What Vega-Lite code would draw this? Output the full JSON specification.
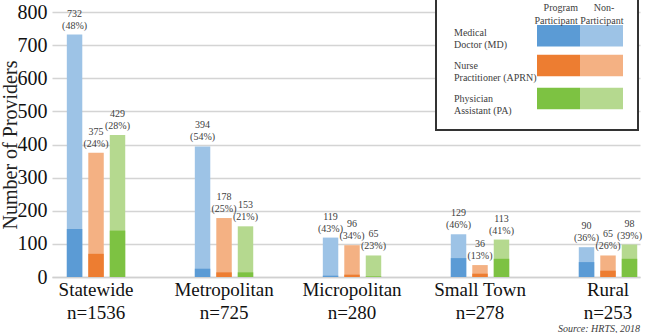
{
  "$schema": "https://vega.github.io/schema/vega-lite/v6.json",
  "autosize": {"type": "none"},
  "width": 588,
  "height": 265,
  "padding": {"left": 52, "top": 12, "right": 5, "bottom": 56},
  "background": "white",
  "config": {
    "view": {"stroke": null},
    "font": "Liberation Serif",
    "axisY": {
      "titleFont": "Liberation Serif",
      "titleFontSize": 20,
      "titleFontWeight": "normal",
      "titleColor": "#222222",
      "titlePadding": -3,
      "labelOverlap": false,
      "labelFont": "Liberation Serif",
      "labelFontSize": 20,
      "labelColor": "#111111",
      "labelPadding": 5,
      "ticks": false,
      "domain": false,
      "grid": true,
      "gridColor": "#d4d4d4",
      "gridWidth": 1.3
    }
  },
  "title": {
    "text": "Source: HRTS, 2018",
    "orient": "bottom",
    "anchor": "end",
    "frame": "group",
    "font": "Liberation Serif",
    "fontSize": 10,
    "fontStyle": "italic",
    "fontWeight": "normal",
    "color": "#404040",
    "offset": 2
  },
  "data": {
    "values": [
      {"area": "Statewide", "prof": "MD", "nkey": "MD-N", "pkey": "MD-P", "total": 732, "program": 145, "label": "732\n(48%)"},
      {"area": "Statewide", "prof": "NP", "nkey": "NP-N", "pkey": "NP-P", "total": 375, "program": 70, "label": "375\n(24%)"},
      {"area": "Statewide", "prof": "PA", "nkey": "PA-N", "pkey": "PA-P", "total": 429, "program": 140, "label": "429\n(28%)"},
      {"area": "Metropolitan", "prof": "MD", "nkey": "MD-N", "pkey": "MD-P", "total": 394, "program": 25, "label": "394\n(54%)"},
      {"area": "Metropolitan", "prof": "NP", "nkey": "NP-N", "pkey": "NP-P", "total": 178, "program": 14, "label": "178\n(25%)"},
      {"area": "Metropolitan", "prof": "PA", "nkey": "PA-N", "pkey": "PA-P", "total": 153, "program": 14, "label": "153\n(21%)"},
      {"area": "Micropolitan", "prof": "MD", "nkey": "MD-N", "pkey": "MD-P", "total": 119, "program": 4, "label": "119\n(43%)"},
      {"area": "Micropolitan", "prof": "NP", "nkey": "NP-N", "pkey": "NP-P", "total": 96, "program": 7, "label": "96\n(34%)"},
      {"area": "Micropolitan", "prof": "PA", "nkey": "PA-N", "pkey": "PA-P", "total": 65, "program": 2, "label": "65\n(23%)"},
      {"area": "Small Town", "prof": "MD", "nkey": "MD-N", "pkey": "MD-P", "total": 129, "program": 57, "label": "129\n(46%)"},
      {"area": "Small Town", "prof": "NP", "nkey": "NP-N", "pkey": "NP-P", "total": 36, "program": 10, "label": "36\n(13%)"},
      {"area": "Small Town", "prof": "PA", "nkey": "PA-N", "pkey": "PA-P", "total": 113, "program": 55, "label": "113\n(41%)"},
      {"area": "Rural", "prof": "MD", "nkey": "MD-N", "pkey": "MD-P", "total": 90, "program": 45, "label": "90\n(36%)"},
      {"area": "Rural", "prof": "NP", "nkey": "NP-N", "pkey": "NP-P", "total": 65, "program": 19, "label": "65\n(26%)"},
      {"area": "Rural", "prof": "PA", "nkey": "PA-N", "pkey": "PA-P", "total": 98, "program": 55, "label": "98\n(39%)"}
    ]
  },
  "encoding": {
    "x": {
      "field": "area",
      "type": "nominal",
      "sort": ["Statewide", "Metropolitan", "Micropolitan", "Small Town", "Rural"],
      "scale": {"paddingInner": 0.5, "paddingOuter": 0.047, "align": 1},
      "axis": {
        "title": null,
        "labelAngle": 0,
        "labelFont": "Liberation Serif",
        "labelFontSize": 19,
        "labelColor": "#111111",
        "labelPadding": 3,
        "labelLineHeight": 23,
        "labelExpr": "datum.value == 'Statewide' ? ['Statewide', 'n=1536'] : datum.value == 'Metropolitan' ? ['Metropolitan', 'n=725'] : datum.value == 'Micropolitan' ? ['Micropolitan', 'n=280'] : datum.value == 'Small Town' ? ['Small Town', 'n=278'] : ['Rural', 'n=253']",
        "ticks": false,
        "domain": true,
        "domainColor": "#d0d0d0",
        "domainWidth": 1.5,
        "grid": false
      }
    },
    "xOffset": {
      "field": "prof",
      "type": "nominal",
      "sort": ["MD", "NP", "PA"],
      "scale": {"paddingInner": 0.28, "paddingOuter": 0.13}
    }
  },
  "layer": [
    {
      "mark": {"type": "bar"},
      "encoding": {
        "y": {
          "field": "total",
          "type": "quantitative",
          "scale": {"domain": [0, 800]},
          "axis": {"title": "Number of Providers", "values": [0, 100, 200, 300, 400, 500, 600, 700, 800]}
        },
        "color": {
          "field": "nkey",
          "type": "nominal",
          "scale": {
            "domain": ["MD", "MD-P", "MD-N", "NP", "NP-P", "NP-N", "PA", "PA-P", "PA-N"],
            "range": ["rgba(255,255,255,0)", "#5B9BD5", "#9DC3E6", "rgba(255,255,255,0)", "#ED7D31", "#F4B183", "rgba(255,255,255,0)", "#7DC242", "#B5D98F"]
          },
          "legend": {
            "orient": "none",
            "direction": "horizontal",
            "legendX": 384,
            "legendY": -23,
            "columns": 3,
            "columnPadding": 0,
            "rowPadding": 5,
            "padding": 14,
            "fillColor": "white",
            "strokeColor": "#333333",
            "symbolType": "M-1,-2.15H7.6V2.15H-1Z",
            "symbolSize": 100,
            "symbolStrokeWidth": 0,
            "symbolOpacity": 1,
            "labelOffset": -6,
            "labelAlign": "left",
            "labelFont": "Liberation Serif",
            "labelFontSize": 10,
            "labelColor": "#404040",
            "labelLimit": 200,
            "labelExpr": "datum.value == 'MD' ? ['Medical', 'Doctor (MD)'] : datum.value == 'NP' ? ['Nurse', 'Practitioner (APRN)'] : datum.value == 'PA' ? ['Physician', 'Assistant (PA)'] : ''",
            "title": ["Program\u2003\u2002\u200aNon-", "Participant Participant"],
            "titleAnchor": "end",
            "titleAlign": "center",
            "titleBaseline": "top",
            "titleFont": "Liberation Serif",
            "titleFontSize": 10,
            "titleFontWeight": "normal",
            "titleColor": "#404040",
            "titleLineHeight": 13,
            "titlePadding": 1.5,
            "titleLimit": 300,
            "encode": {
              "legend": {"update": {"strokeWidth": {"value": 2}}},
              "title": {"update": {"dx": {"value": -44}}}
            }
          }
        }
      }
    },
    {
      "mark": {"type": "bar"},
      "encoding": {
        "y": {
          "field": "program",
          "type": "quantitative",
          "axis": {"title": "Number of Providers", "values": [0, 100, 200, 300, 400, 500, 600, 700, 800]}
        },
        "color": {"field": "pkey", "type": "nominal"}
      }
    },
    {
      "mark": {
        "type": "text",
        "font": "Liberation Serif",
        "fontSize": 10,
        "color": "#404040",
        "lineBreak": "\n",
        "lineHeight": 12,
        "baseline": "bottom",
        "dy": -16
      },
      "encoding": {
        "y": {
          "field": "total",
          "type": "quantitative",
          "axis": {"title": "Number of Providers", "values": [0, 100, 200, 300, 400, 500, 600, 700, 800]}
        },
        "text": {"field": "label"}
      }
    }
  ]
}
